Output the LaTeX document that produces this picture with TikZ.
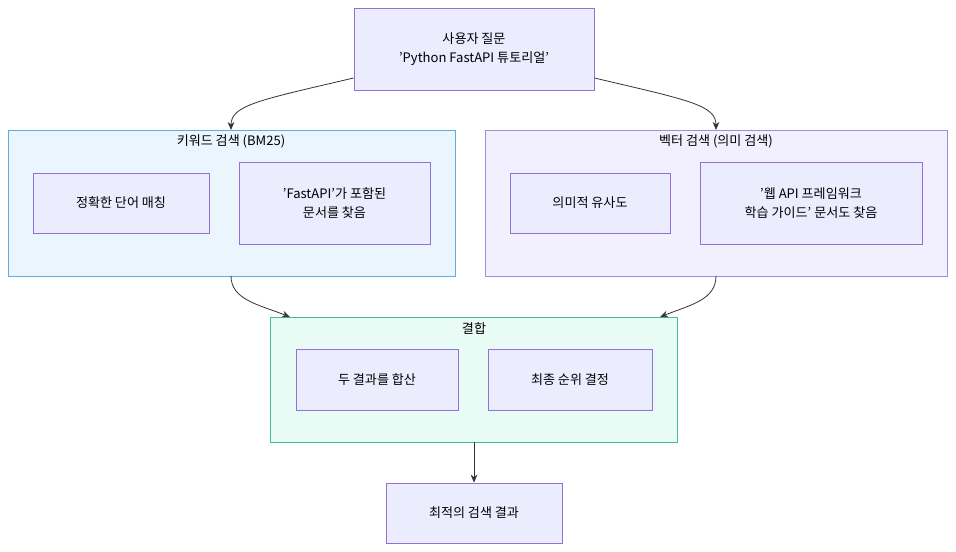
\documentclass[tikz,border=0pt]{standalone}
\usepackage{fontspec}
\setmainfont{Noto Sans CJK KR}[Ligatures=ResetAll]
\usetikzlibrary{arrows.meta}
\definecolor{nfill}{HTML}{ECECFF}
\definecolor{nline}{HTML}{9370DB}
\definecolor{kwfill}{HTML}{EBF5FE}
\definecolor{kwline}{HTML}{5DADE2}
\definecolor{vfill}{HTML}{F2F0FF}
\definecolor{vline}{HTML}{A08CE0}
\definecolor{cfill}{HTML}{E8FBF4}
\definecolor{cline}{HTML}{40BFA0}
\begin{document}
\begin{tikzpicture}[x=0.75pt,y=-0.75pt,
  box/.style={draw=nline,fill=nfill,line width=0.6pt,font=\fontsize{9.8}{14.5}\selectfont,align=center,inner sep=0},
  clus/.style={line width=0.7pt},
  ttl/.style={font=\fontsize{9.8}{12}\selectfont,anchor=center},
  arr/.style={draw=black!80,line width=0.6pt,-{Stealth[length=6pt,width=5pt]}}]
\useasboundingbox (0,0) rectangle (956,552);
\fill[white] (0,0) rectangle (956,552);
% clusters
\draw[clus,draw=kwline,fill=kwfill] (8,130) rectangle (455,276);
\coordinate (kwT) at (231,130); \coordinate (kwB) at (231,276);
\node[ttl] (kwt) at (231,141) {키워드 검색 (BM25)};
\draw[clus,draw=vline,fill=vfill] (485,130) rectangle (947,276);
\coordinate (vT) at (716,130); \coordinate (vB) at (716,276);
\node[ttl] (vt) at (716,141) {벡터 검색 (의미 검색)};
\draw[clus,draw=cline,fill=cfill] (270,317) rectangle (677,442);
\coordinate (cL) at (290,317); \coordinate (cR) at (660,317);
\coordinate (cB) at (474,442);
\node[ttl] (ct) at (474,328) {결합};
% nodes
\node[box,minimum width=240*0.75pt,minimum height=82*0.75pt] (q) at (474,49) {사용자 질문\\'Python FastAPI 튜토리얼'};
\node[box,minimum width=176*0.75pt,minimum height=60*0.75pt] (a1) at (121,203) {정확한 단어 매칭};
\node[box,minimum width=191*0.75pt,minimum height=82*0.75pt] (a2) at (334.5,203) {'FastAPI'가 포함된\\문서를 찾음};
\node[box,minimum width=160*0.75pt,minimum height=60*0.75pt] (b1) at (590,203) {의미적 유사도};
\node[box,minimum width=222*0.75pt,minimum height=82*0.75pt] (b2) at (811,203) {'웹 API 프레임워크\\학습 가이드' 문서도 찾음};
\node[box,minimum width=162*0.75pt,minimum height=61*0.75pt] (c1) at (377,379.5) {두 결과를 합산};
\node[box,minimum width=164*0.75pt,minimum height=61*0.75pt] (c2) at (570,379.5) {최종 순위 결정};
\node[box,minimum width=176*0.75pt,minimum height=60*0.75pt] (f) at (474,513) {최적의 검색 결과};
% edges
\draw[arr] (q.west|-0,78) .. controls (260,100) and (231,105) .. (kwT);
\draw[arr] (q.east|-0,78) .. controls (688,100) and (716,105) .. (vT);
\draw[arr] (kwB) .. controls (231,300) and (260,305) .. (cL);
\draw[arr] (vB) .. controls (716,300) and (690,305) .. (cR);
\draw[arr] (cB) -- (f);
\end{tikzpicture}
\end{document}
